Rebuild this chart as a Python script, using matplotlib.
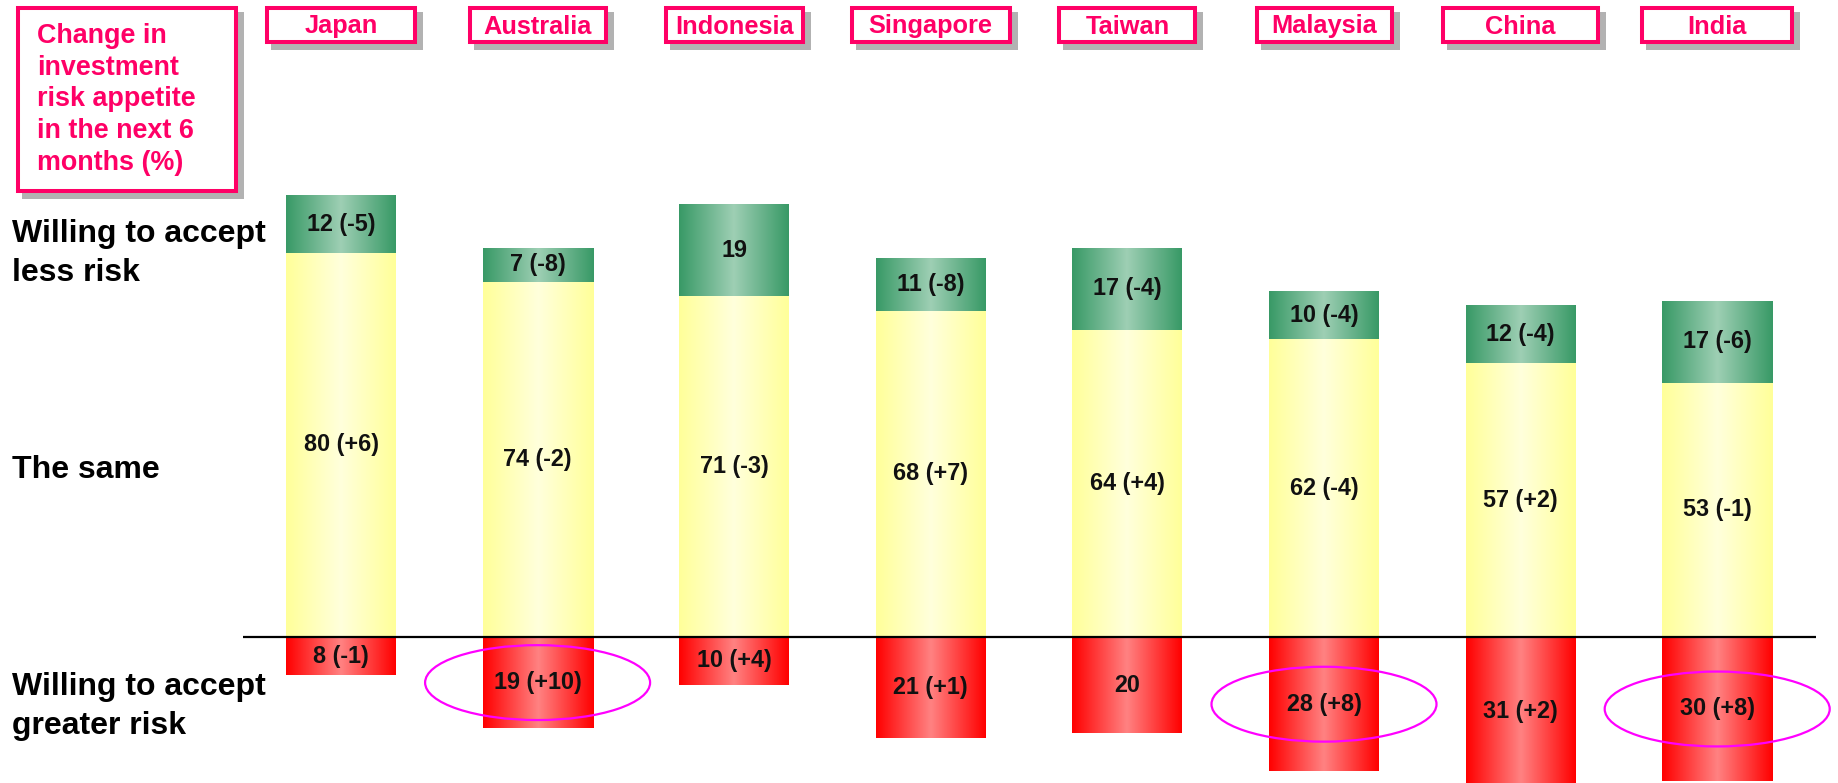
"""Risk appetite survey: stacked bars per market with gradient fills."""
import matplotlib
matplotlib.use("Agg")
import matplotlib.pyplot as plt
import matplotlib.colors as mcolors
from matplotlib.patches import Rectangle, Ellipse
import numpy as np

COUNTRIES = ["Japan", "Australia", "Indonesia", "Singapore",
             "Taiwan", "Malaysia", "China", "India"]

LESS_RISK = [12, 7, 19, 11, 17, 10, 12, 17]
LESS_CHANGE = [-5, -8, None, -8, -4, -4, -4, -6]
SAME = [80, 74, 71, 68, 64, 62, 57, 53]
SAME_CHANGE = [6, -2, -3, 7, 4, -4, 2, -1]
GREATER_RISK = [8, 19, 10, 21, 20, 28, 31, 30]
GREATER_CHANGE = [-1, 10, 4, 1, None, 8, 2, 8]

HIGHLIGHT = ["Australia", "Malaysia", "India"]

TITLE_LINES = ["Change in", "investment", "risk appetite",
               "in the next 6", "months (%)"]
ROW_LABELS = [(["Willing to accept", "less risk"], 242),
              (["The same"], 478),
              (["Willing to accept", "greater risk"], 695)]

# header box widths in pixels, one per country
HEADER_W = [152, 140, 141, 162, 140, 139, 159, 154]

W_PX, H_PX = 1838, 783
PINK = "#ff0066"
SHADOW = "#b2b2b2"
FONT = "Liberation Sans"

GREEN = ("#389966", "#9ecfb4")
YELLOW = ("#ffff99", "#ffffdc")
RED = ("#ff0000", "#ff8282")


def fmt(v, c):
    return f"{v}" if c is None else f"{v} ({c:+d})"


def gradient_fill(ax, rect, colours):
    edge = np.array(mcolors.to_rgb(colours[0]))
    centre = np.array(mcolors.to_rgb(colours[1]))
    u = np.linspace(0, 1, 256)
    t = 1 - np.abs(2 * u - 1)
    img = (edge + (centre - edge) * t[:, None])[None, :, :]
    x, y = rect.get_x(), rect.get_y()
    w, h = rect.get_width(), rect.get_height()
    ax.imshow(img, extent=(x, x + w, min(y, y + h), max(y, y + h)),
              aspect="auto", origin="lower", interpolation="bilinear", zorder=2)


def boxed(fig, x0, y0, x1, y1):
    """Box with drop shadow, pixel coords measured from the top-left."""
    def fr(x, y):
        return x / W_PX, 1 - y / H_PX
    sx, sy = fr(x0 + 6, y1 + 6)
    fig.patches.append(Rectangle((sx, sy), (x1 - x0) / W_PX, (y1 - y0) / H_PX,
                                 transform=fig.transFigure, facecolor=SHADOW,
                                 edgecolor="none", zorder=1))
    bx, by = fr(x0 + 2, y1 - 2)
    fig.patches.append(Rectangle((bx, by), (x1 - x0 - 4) / W_PX, (y1 - y0 - 4) / H_PX,
                                 transform=fig.transFigure, facecolor="white",
                                 edgecolor=PINK, lw=2.9, zorder=2))


def main() -> None:
    fig = plt.figure(figsize=(W_PX / 100, H_PX / 100), dpi=100)
    ax = fig.add_axes([0, 0, 1, 1])
    ax.set_axis_off()

    n = len(COUNTRIES)
    x = np.arange(n)
    step = 196.6
    xlim = (-341 / step, (W_PX - 341) / step)
    ylim = (-(H_PX - 637) / 4.8, 637 / 4.8)
    width = 110 / step

    less = np.array(LESS_RISK)
    same = np.array(SAME)
    greater = np.array(GREATER_RISK)

    red = ax.bar(x, -greater, width=width, color=RED[0], zorder=1)
    yel = ax.bar(x, same, width=width, color=YELLOW[0], zorder=1)
    grn = ax.bar(x, less, bottom=same, width=width, color=GREEN[0], zorder=1)
    for bars, cols in ((red, RED), (yel, YELLOW), (grn, GREEN)):
        for r in bars:
            gradient_fill(ax, r, cols)

    ax.hlines(0, -0.5, n - 0.5, color="black", lw=1.6, zorder=5)

    lab = dict(ha="center", va="center", fontsize=16.8, fontweight="bold",
               family=FONT, color="#111111", zorder=6)
    for i in range(n):
        ax.text(x[i], same[i] + less[i] / 2, fmt(less[i], LESS_CHANGE[i]), **lab)
        ax.text(x[i], same[i] / 2, fmt(same[i], SAME_CHANGE[i]), **lab)
        ax.text(x[i], -greater[i] / 2, fmt(greater[i], GREATER_CHANGE[i]), **lab)
        if COUNTRIES[i] in HIGHLIGHT:
            ax.add_patch(Ellipse((x[i], -greater[i] / 2), 225 / step, 15.6,
                                 facecolor="none", edgecolor="#ff00ff",
                                 lw=1.6, zorder=7))

    ax.set_xlim(*xlim)
    ax.set_ylim(*ylim)

    # country headers
    for i, name in enumerate(COUNTRIES):
        cx = 341 + step * i
        hw = HEADER_W[i] / 2
        boxed(fig, cx - hw, 6, cx + hw, 44)
        fig.text(cx / W_PX, 1 - 33.5 / H_PX, name, ha="center", va="baseline",
                 fontsize=18.3, fontweight="bold", family=FONT, color=PINK, zorder=3)

    # title box
    boxed(fig, 16, 6, 238, 193)
    for k, line in enumerate(TITLE_LINES):
        fig.text(37 / W_PX, 1 - (42.7 + 31.9 * k) / H_PX, line, ha="left",
                 va="baseline", fontsize=19.4, fontweight="bold", family=FONT,
                 color=PINK, zorder=3)

    # row labels on the left
    for lines, base in ROW_LABELS:
        for k, line in enumerate(lines):
            fig.text(12 / W_PX, 1 - (base + 39 * k) / H_PX, line, ha="left",
                     va="baseline", fontsize=23, fontweight="bold", family=FONT,
                     color="black")

    fig.savefig("out.png", dpi=100)


if __name__ == "__main__":
    main()
